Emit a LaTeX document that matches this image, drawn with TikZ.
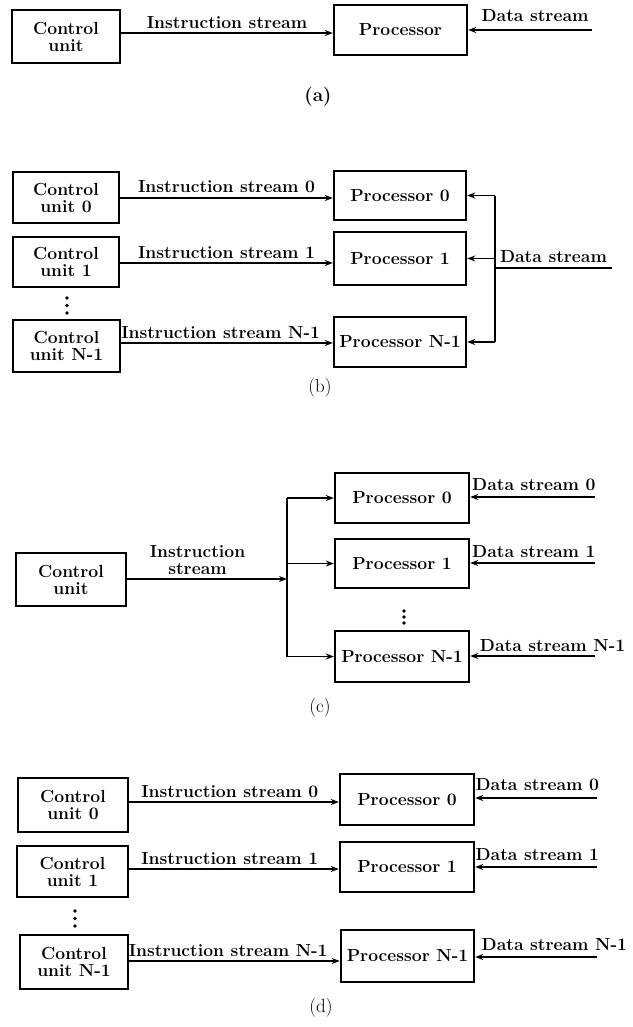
\documentclass[tikz,border=0pt]{standalone}
\usetikzlibrary{arrows.meta}
\newcommand\lbfnt{\fontsize{17.5}{17}\selectfont\bfseries}
\newcommand\capfnt{\fontsize{19}{19}\selectfont}
\begin{document}
\begin{tikzpicture}[x=1pt,y=-1pt,
  box/.style={draw, line width=2.4pt, inner sep=0pt, align=center, font=\lbfnt, minimum width=108, minimum height=52},
  pbox/.style={box, minimum width=133, minimum height=50},
  conn/.style={line width=1.6pt},
  arr/.style={conn, -{Stealth[length=8pt,width=6pt]}},
  lab/.style={font=\lbfnt, inner sep=0pt, align=center, above=#1},
  lab/.default=4pt,
  captxt/.style={font=\capfnt, inner sep=0pt}]
\useasboundingbox (0,0) rectangle (632,1027);

% ---------- (a) ----------
\node[box, minimum height=53] (cuA) at (66,36.5) {Control\\unit};
\node[pbox] (pA) at (400.5,30) {Processor};
\coordinate (dA) at (592,30);
\draw[arr] (cuA.east |- 0,33) -- node[lab] (isA) {Instruction stream} (pA.west |- 0,33);
\draw[arr] (dA) -- node[lab=8pt, pos=0.46] (dsA) {Data stream} (pA.east);
\node[captxt, font=\capfnt\bfseries] (capA) at (318,97) {(a)};

% ---------- (b) ----------
\node[box, minimum width=106, minimum height=51] (cb0) at (66,197.5) {Control\\unit 0};
\node[box, minimum width=106, minimum height=50] (cb1) at (66,262) {Control\\unit 1};
\node[box, minimum width=107, minimum height=52] (cbN) at (66.5,346) {Control\\unit N-1};
\node[pbox, minimum width=132, minimum height=49] (pb0) at (400,195.5) {Processor 0};
\node[pbox, minimum width=132, minimum height=53] (pb1) at (400,258.5) {Processor 1};
\node[pbox, minimum width=132, minimum height=50] (pbN) at (400,342) {Processor N-1};
\draw[arr] (cb0.east |- 0,198) -- node[lab] (isb0) {Instruction stream 0} (pb0.west |- 0,198);
\draw[arr] (cb1.east |- 0,263) -- node[lab] (isb1) {Instruction stream 1} (pb1.west |- 0,263);
\draw[arr] (cbN.east |- 0,343) -- node[lab, pos=0.47] (isbN) {Instruction stream N-1} (pbN.west |- 0,343);
\coordinate (bxb) at (495,0);
\draw[conn] (pb0.east -| bxb) -- (pbN.east -| bxb);
\draw[arr] (pb0.east -| bxb) -- (pb0.east);
\draw[arr] (pb1.east -| bxb) -- (pb1.east);
\draw[arr] (pbN.east -| bxb) -- (pbN.east);
\coordinate (dsbIn) at (612,268);
\draw[conn] (dsbIn) -- node[lab=5pt] (dsb) {Data stream} (dsbIn -| bxb);
\foreach \yy in {298,305.5,313} \fill (67,\yy) circle (1.8);
\node[captxt] (capB) at (320,388) {(b)};

% ---------- (c) ----------
\node[box, minimum width=110, minimum height=53] (cuC) at (71,579.5) {Control\\unit};
\node[pbox, minimum width=134, minimum height=50] (pc0) at (402,498) {Processor 0};
\node[pbox, minimum width=134, minimum height=49] (pc1) at (402,563.5) {Processor 1};
\node[pbox, minimum width=134, minimum height=51] (pcN) at (402,656.5) {Processor N-1};
\coordinate (bxc) at (287,0);
\draw[arr] (cuC.east |- 0,579) -- node[lab, pos=0.44] (isC) {Instruction\\stream} (bxc |- 0,579);
\draw[conn] (pc0.west -| bxc) -- (pcN.west -| bxc);
\draw[arr] (pc0.west -| bxc) -- (pc0.west);
\draw[arr] (pc1.west -| bxc) -- (pc1.west);
\draw[arr] (pcN.west -| bxc) -- (pcN.west);
\coordinate (dc0) at (595,497);
\coordinate (dc1) at (595,563);
\coordinate (dcN) at (595,656);
\draw[arr] (dc0) -- node[lab=5pt, pos=0.49] (dsc0) {Data stream 0} (pc0.east |- dc0);
\draw[arr] (dc1) -- node[lab=5pt, pos=0.49] (dsc1) {Data stream 1} (pc1.east |- dc1);
\draw[arr] (dcN) -- node[lab=4pt, pos=0.34] (dscN) {Data stream N-1} (pcN.east |- dcN);
\foreach \yy in {611,617,623} \fill (404,\yy) circle (1.8);
\node[captxt] (capC) at (320,708) {(c)};

% ---------- (d) ----------
\node[box, minimum width=110, minimum height=54] (cd0) at (73,805) {Control\\unit 0};
\node[box, minimum width=111, minimum height=51] (cd1) at (72.5,871.5) {Control\\unit 1};
\node[box, minimum width=108, minimum height=54] (cdN) at (74,962) {Control\\unit N-1};
\node[pbox, minimum width=134, minimum height=51] (pd0) at (407,799.5) {Processor 0};
\node[pbox, minimum width=134, minimum height=50] (pd1) at (407,867) {Processor 1};
\node[pbox, minimum width=133, minimum height=52] (pdN) at (407.5,956) {Processor N-1};
\draw[arr] (cd0.east |- 0,802) -- node[lab, pos=0.48] (isd0) {Instruction stream 0} (pd0.west |- 0,802);
\draw[arr] (cd1.east |- 0,869) -- node[lab, pos=0.48] (isd1) {Instruction stream 1} (pd1.west |- 0,869);
\draw[arr] (cdN.east |- 0,961) -- node[lab, pos=0.47] (isdN) {Instruction stream N-1} (pdN.west |- 0,961);
\coordinate (dd0) at (597,798);
\coordinate (dd1) at (597,867);
\coordinate (ddN) at (597,957);
\draw[arr] (dd0) -- node[lab=6pt, pos=0.49] (dsd0) {Data stream 0} (pd0.east |- dd0);
\draw[arr] (dd1) -- node[lab=6pt, pos=0.49] (dsd1) {Data stream 1} (pd1.east |- dd1);
\draw[arr] (ddN) -- node[lab=6pt, pos=0.35] (dsdN) {Data stream N-1} (pdN.east |- ddN);
\foreach \yy in {911,918.5,926} \fill (75,\yy) circle (1.8);
\node[captxt] (capD) at (321,1008) {(d)};
\end{tikzpicture}
\end{document}
